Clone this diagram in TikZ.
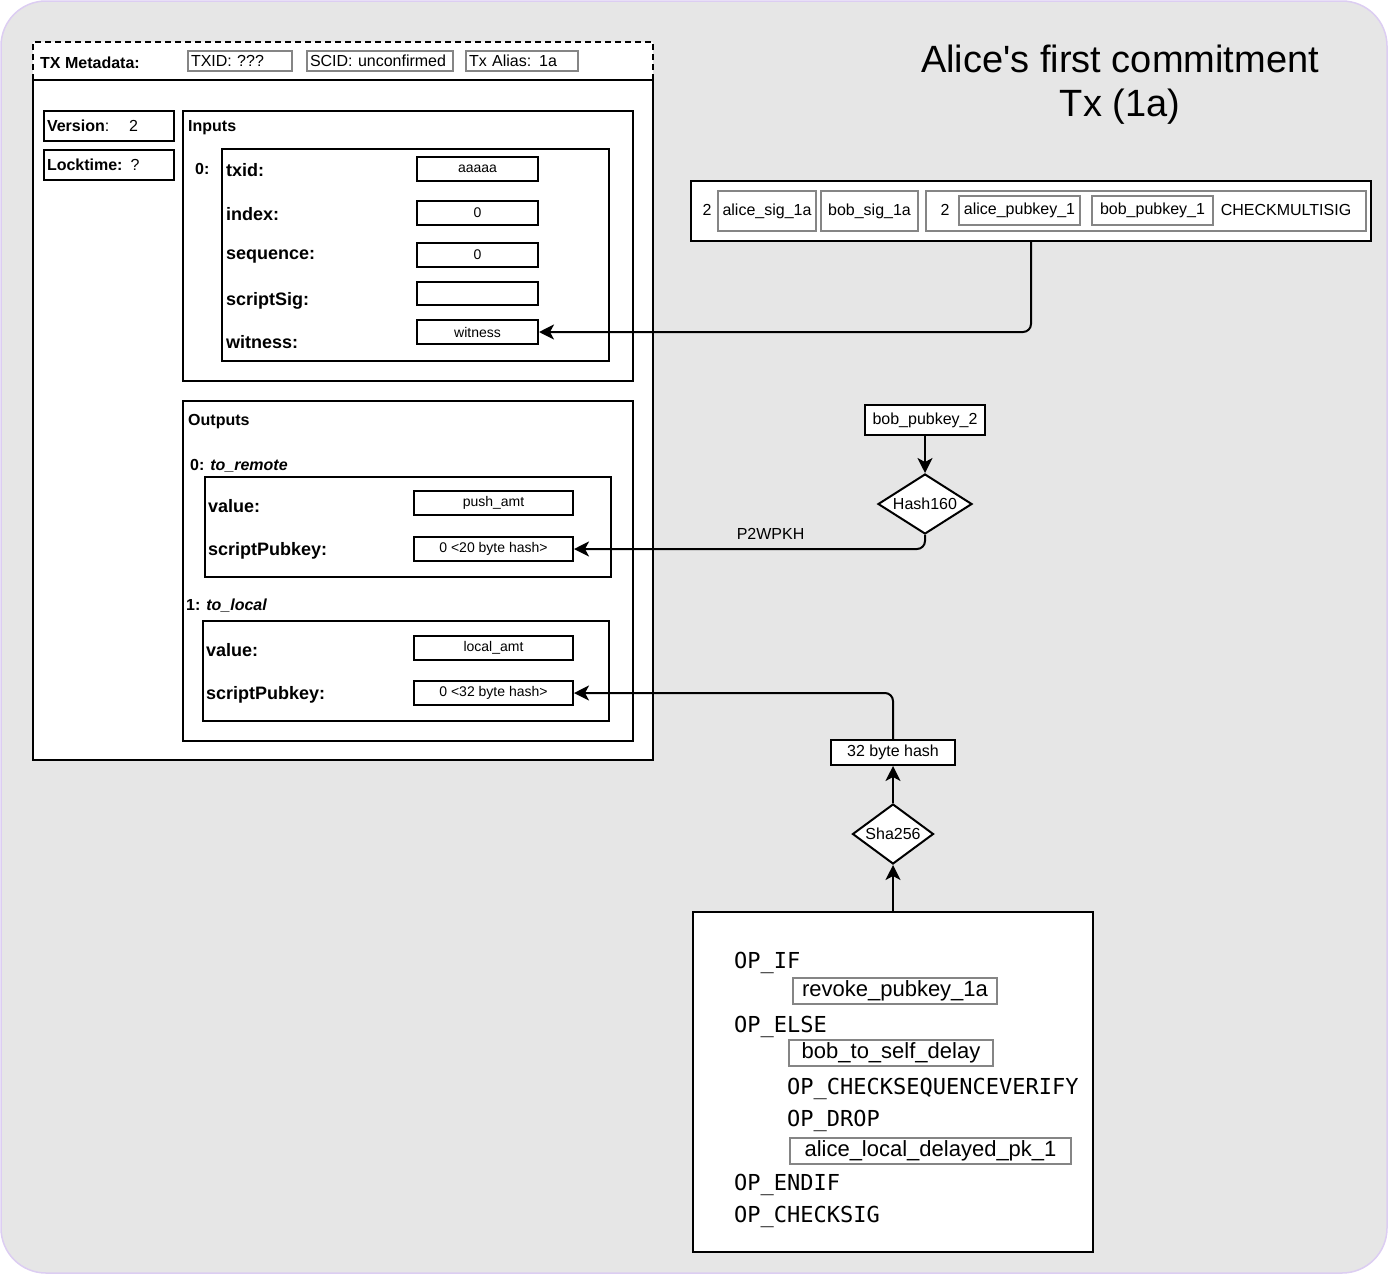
\documentclass[tikz,border=0pt]{standalone}
\usepackage{fontspec}
\setmainfont{Liberation Sans}
\setmonofont{DejaVu Sans Mono}
\usetikzlibrary{shapes.geometric,arrows.meta}

\definecolor{bgfill}{HTML}{E6E6E6}
\definecolor{bgline}{HTML}{DCCDF2}
\definecolor{tagline}{HTML}{858585}

\begin{document}
\begin{tikzpicture}[x=1pt,y=-1pt,
    box/.style={draw,line width=2pt,fill=white,inner sep=0pt},
    tag/.style={draw=tagline,line width=2pt,fill=white,inner sep=0pt},
    txt/.style={inner sep=0pt,font=\fontsize{16}{19}\selectfont},
    valbox/.style={box,minimum height=24,font=\fontsize{14}{16}\selectfont},
    field/.style={anchor=west,inner sep=0pt,yshift=-2.5pt,font=\bfseries\fontsize{18}{21}\selectfont},
    head/.style={anchor=west,inner sep=0pt,yshift=-2pt,font=\bfseries\fontsize{16}{19}\selectfont},
    op/.style={anchor=west,inner sep=0pt,yshift=-3pt,font=\ttfamily\fontsize{22}{26}\selectfont},
    pushbox/.style={tag,font=\fontsize{22}{26}\selectfont,minimum height=26},
    hashop/.style={diamond,aspect=1.5,draw,line width=2pt,fill=white,inner sep=0pt,font=\fontsize{16}{19}\selectfont},
    link/.style={line width=2pt,rounded corners=8pt,-{Stealth[length=15pt,width=15pt,inset=4pt]}}]

    % Background
    \useasboundingbox (0,0) rectangle (1388,1274);
    \draw[fill=bgfill,draw=bgline,line width=1.5pt,rounded corners=45pt] (1,1) rectangle (1387,1273);

    % Title
    \node[txt,align=center,font=\fontsize{38}{44}\selectfont] (title) at (1120,85) {Alice\textquotesingle s first commitment\\Tx (1a)};

    % Metadata and transaction frame
    \node[box,dash pattern=on 6pt off 4pt,minimum width=620,minimum height=38] (meta) at (343,61) {};
    \node[box,minimum width=620,minimum height=680] (tx) at (343,420) {};
    \node[head] (metalbl) at (40,61) {TX Metadata:};
    \node[tag,txt,anchor=west,minimum width=104,minimum height=20,text width=98,align=left] (txid) at (187,61) {TXID: ???};
    \node[tag,txt,anchor=west,minimum width=146,minimum height=20,text width=140,align=left] (scid) at (306,61) {SCID: unconfirmed};
    \node[tag,txt,anchor=west,minimum width=112,minimum height=20,text width=106,align=left] (alias) at (465,61) {Tx Alias: 1a};

    % Version and locktime
    \node[box,txt,anchor=west,minimum width=130,minimum height=30,text width=124,align=left] (version) at (43,126) {\textbf{Version}:\hspace{20pt}2};
    \node[box,txt,anchor=west,minimum width=130,minimum height=30,text width=124,align=left] (locktime) at (43,165) {\textbf{Locktime:}\hspace{8pt}?};

    % Inputs
    \node[box,minimum width=450,minimum height=270] (inputs) at (408,246) {};
    \node[head] (inlbl) at (188,126) {Inputs};
    \node[head] (in0lbl) at (195,167) {0:};
    \node[box,minimum width=387,minimum height=212] (in0) at (415.5,255) {};
    \node[field] (ftxid) at (226,168) {txid:};
    \node[field] (findex) at (226,212) {index:};
    \node[field] (fseq) at (226,254) {sequence:};
    \node[field] (fsig) at (226,298) {scriptSig:};
    \node[field] (fwit) at (226,340) {witness:};
    \node[valbox,minimum width=121] (vtxid) at (477.5,169) {aaaaa};
    \node[valbox,minimum width=121] (vindex) at (477.5,213) {0};
    \node[valbox,minimum width=121] (vseq) at (477.5,255) {0};
    \node[valbox,minimum width=121,minimum height=23] (vsig) at (477.5,293.5) {};
    \node[valbox,minimum width=121] (vwit) at (477.5,332) {witness};

    % Outputs
    \node[box,minimum width=450,minimum height=340] (outputs) at (408,571) {};
    \node[head] (outlbl) at (188,420) {Outputs};
    \node[head] (out0lbl) at (190,464) {0: \textit{to\_remote}};
    \node[box,minimum width=406,minimum height=100] (out0) at (408,527) {};
    \node[field] (fval0) at (208,504) {value:};
    \node[field] (fspk0) at (208,548) {scriptPubkey:};
    \node[valbox,minimum width=159] (amt0) at (493.5,503) {push\_amt};
    \node[valbox,minimum width=159] (hash20) at (493.5,549) {0 <20 byte hash>};
    \node[head] (out1lbl) at (186,604) {1: \textit{to\_local}};
    \node[box,minimum width=406,minimum height=100] (out1) at (406,671) {};
    \node[field] (fval1) at (206,648) {value:};
    \node[field] (fspk1) at (206,692) {scriptPubkey:};
    \node[valbox,minimum width=159] (amt1) at (493.5,648) {local\_amt};
    \node[valbox,minimum width=159] (hash32) at (493.5,693) {0 <32 byte hash>};

    % Multisig witness
    \node[box,minimum width=680,minimum height=60] (msig) at (1031,211) {};
    \node[txt] (nsig) at (707,210) {2};
    \node[tag,txt,minimum width=98,minimum height=40] (asig) at (767,211) {alice\_sig\_1a};
    \node[tag,txt,minimum width=97,minimum height=40] (bsig) at (869.5,211) {bob\_sig\_1a};
    \node[tag,minimum width=440,minimum height=40] (pkgroup) at (1146,211) {};
    \node[txt] (npk) at (945,210) {2};
    \node[tag,txt,minimum width=121,minimum height=29] (apk) at (1019.5,210.5) {alice\_pubkey\_1};
    \node[tag,txt,minimum width=121,minimum height=29] (bpk) at (1152.5,210.5) {bob\_pubkey\_1};
    \node[txt] (cms) at (1286,210) {CHECKMULTISIG};

    % Hashing
    \node[box,txt,minimum width=120,minimum height=30] (bpk2) at (925,420) {bob\_pubkey\_2};
    \node[hashop,minimum width=94,minimum height=60] (h160) at (925,504) {Hash160};
    \node[box,txt,minimum width=124,minimum height=25] (h32box) at (893,752.5) {32 byte hash};
    \node[hashop,minimum width=81,minimum height=60] (sha) at (893,834) {Sha256};

    % to_local script
    \node[box,minimum width=400,minimum height=340] (script) at (893,1082) {};
    \node[op] (opif) at (734,960) {OP\_IF};
    \node[pushbox,minimum width=204] (revoke) at (895,991) {revoke\_pubkey\_1a};
    \node[op] (opelse) at (734,1024) {OP\_ELSE};
    \node[pushbox,minimum width=204] (delay) at (891,1053) {bob\_to\_self\_delay};
    \node[op] (opcsv) at (787,1086) {OP\_CHECKSEQUENCEVERIFY};
    \node[op] (opdrop) at (787,1118) {OP\_DROP};
    \node[pushbox,minimum width=281] (delayedpk) at (930.5,1151) {alice\_local\_delayed\_pk\_1};
    \node[op] (opendif) at (734,1182) {OP\_ENDIF};
    \node[op] (opcs) at (734,1214) {OP\_CHECKSIG};

    % Connectors
    \draw[link] (msig.south) |- (vwit.east);
    \draw[link] (bpk2.south) -- (h160.north);
    \draw[link] (h160.south) |- node[txt,above=9pt,pos=0.72] (p2wpkh) {P2WPKH} (hash20.east);
    \draw[link] (h32box.north) |- (hash32.east);
    \draw[link] (sha.north) -- (h32box.south);
    \draw[link] (script.north) -- (sha.south);
\end{tikzpicture}
\end{document}
